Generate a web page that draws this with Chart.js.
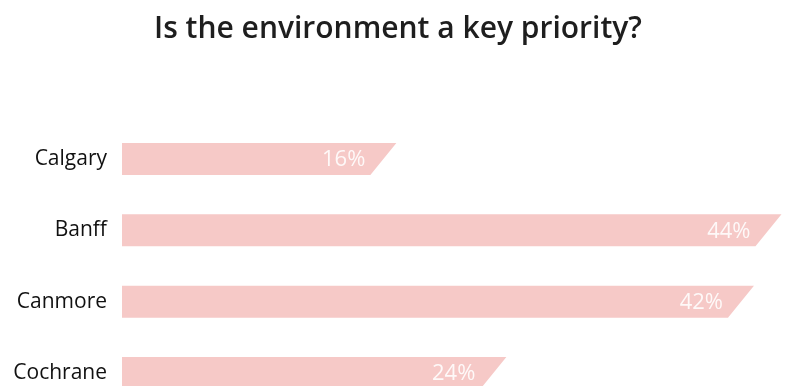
<!DOCTYPE html>
<html>
<head>
<meta charset="utf-8">
<script src="https://cdn.jsdelivr.net/npm/chart.js@4/dist/chart.umd.min.js"></script>
<style>
  html, body { margin: 0; padding: 0; background: #fff; overflow: hidden; }
  #wrap { position: relative; width: 796px; height: 386px; }
</style>
</head>
<body>
<div id="wrap"><canvas id="chart" width="796" height="386"></canvas></div>
<script>
const towns = ['Calgary', 'Banff', 'Canmore', 'Cochrane'];
const keyPriority = [16, 44, 42, 24];
const titleText = 'Is the environment a key priority?';

const barColor = '#f6c9c7';
const slant = 13;

// bars are drawn by hand so the right end gets the slanted cut
const slantBars = {
  id: 'slantBars',
  beforeDatasetDraw(chart, args) {
    const ctx = chart.ctx;
    const meta = args.meta;
    ctx.save();
    meta.data.forEach((bar, i) => {
      const p = bar.getProps(['x', 'y', 'base', 'height'], true);
      const top = p.y - p.height / 2;
      const bottom = p.y + p.height / 2;
      ctx.beginPath();
      ctx.moveTo(p.base, top);
      ctx.lineTo(p.x + slant, top);
      ctx.lineTo(p.x - slant, bottom);
      ctx.lineTo(p.base, bottom);
      ctx.closePath();
      ctx.fillStyle = barColor;
      ctx.fill();

      ctx.font = '22px "Open Sans"';
      ctx.fillStyle = 'rgba(255,255,255,0.88)';
      ctx.textAlign = 'right';
      ctx.textBaseline = 'middle';
      ctx.fillText(keyPriority[i] + '%', p.x - 18, p.y + 1);
    });
    ctx.restore();
    return false;
  }
};

new Chart(document.getElementById('chart'), {
  type: 'bar',
  data: {
    labels: towns,
    datasets: [{
      data: keyPriority,
      base: -3,
      backgroundColor: barColor,
      barThickness: 32
    }]
  },
  options: {
    indexAxis: 'y',
    responsive: false,
    animation: false,
    layout: { padding: { left: 0, right: 0, top: 0, bottom: 13 } },
    plugins: {
      legend: { display: false },
      tooltip: { enabled: false },
      title: {
        display: true,
        text: titleText,
        color: '#1e1e1e',
        font: { family: 'Open Sans', size: 30, weight: '600' },
        padding: { top: 11, bottom: 112 }
      }
    },
    scales: {
      x: {
        display: false,
        min: -3,
        max: 46
      },
      y: {
        offset: false,
        grid: { display: false, drawTicks: false },
        border: { display: false },
        ticks: {
          color: '#111',
          padding: 15,
          font: { family: 'Open Sans', size: 21 }
        },
        afterFit(scale) {
          scale.width = 122;
          scale.paddingTop = 0;
          scale.paddingBottom = 0;
        }
      }
    }
  },
  plugins: [slantBars]
});
</script>
</body>
</html>
